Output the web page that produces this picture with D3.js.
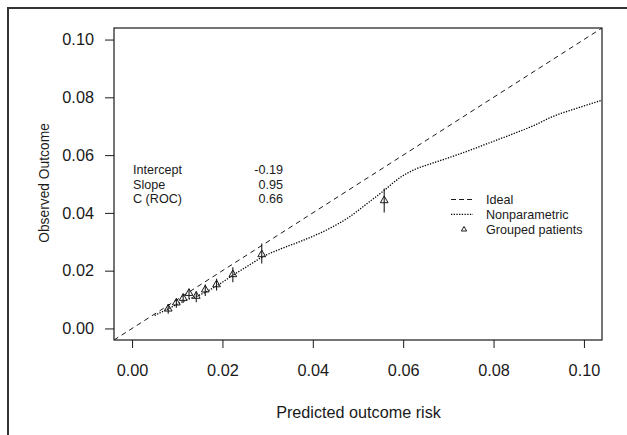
<!DOCTYPE html>
<html lang="en">
<head>
  <meta charset="UTF-8">
  <title>Calibration plot</title>
  <style>
    body { margin: 0; background: #fff; }
    svg { display: block; font-family: "Liberation Sans", Arial, sans-serif; }
  </style>
</head>
<body>
  <svg width="627" height="435"></svg>
  <script src="https://d3js.org/d3.v7.min.js"></script>
  <script>
    // --- data ---
    const tickValues = [0, 0.02, 0.04, 0.06, 0.08, 0.10];

    // nonparametric (loess) curve
    const npX = [0.005, 0.008, 0.0115, 0.015, 0.019, 0.0222, 0.0255, 0.0288, 0.033, 0.0377, 0.0428,
                 0.048, 0.0524, 0.0558, 0.0591, 0.0628, 0.0657, 0.0701, 0.0753, 0.0800, 0.0849,
                 0.0890, 0.0930, 0.0980, 0.1040];
    const npY = [0.0045, 0.0068, 0.0095, 0.0116, 0.0150, 0.0183, 0.0215, 0.0247, 0.0276, 0.0304, 0.0339,
                 0.0385, 0.0437, 0.0478, 0.0520, 0.0552, 0.0568, 0.0591, 0.0620, 0.0648, 0.0677,
                 0.0703, 0.0733, 0.0760, 0.0790];

    // grouped patients (triangles with error bars)
    const grpX  = [0.0080, 0.0098, 0.0113, 0.0126, 0.0142, 0.0162, 0.0187, 0.0223, 0.0287, 0.0558];
    const grpY  = [0.0068, 0.0089, 0.0105, 0.0122, 0.0112, 0.0134, 0.0152, 0.0187, 0.0256, 0.0443];
    const grpLo = [0.0051, 0.0072, 0.0088, 0.0103, 0.0091, 0.0112, 0.0131, 0.0160, 0.0225, 0.0401];
    const grpHi = [0.0085, 0.0103, 0.0120, 0.0137, 0.0129, 0.0152, 0.0172, 0.0212, 0.0294, 0.0484];

    const statLabels = ["Intercept", "Slope", "C (ROC)"];
    const statValues = ["-0.19", "0.95", "0.66"];

    const legendLabels = ["Ideal", "Nonparametric", "Grouped patients"];

    // --- layout ---
    const svg = d3.select("svg");
    const plot = { left: 114, top: 28, right: 602, bottom: 340 };
    const ink = "#1a1a1a";

    const x = d3.scaleLinear().domain([-0.004, 0.104]).range([plot.left, plot.right]);
    const y = d3.scaleLinear().domain([-0.004, 0.104]).range([plot.bottom, plot.top]);

    // outer frame (cut off at right / bottom)
    svg.append("rect")
      .attr("x", 8).attr("y", 8)
      .attr("width", 700).attr("height", 500)
      .attr("fill", "none")
      .attr("stroke", "#333")
      .attr("stroke-width", 2);

    svg.append("clipPath").attr("id", "clip")
      .append("rect")
      .attr("x", plot.left).attr("y", plot.top)
      .attr("width", plot.right - plot.left).attr("height", plot.bottom - plot.top);

    // axes
    const xAxis = svg.append("g")
      .attr("transform", `translate(0,${plot.bottom})`)
      .call(d3.axisBottom(x).tickValues(tickValues).tickFormat(d3.format(".2f")).tickSize(8).tickPadding(16));
    const yAxis = svg.append("g")
      .attr("transform", `translate(${plot.left},0)`)
      .call(d3.axisLeft(y).tickValues(tickValues).tickFormat(d3.format(".2f")).tickSize(9).tickPadding(11));
    [xAxis, yAxis].forEach(g => {
      g.select(".domain").remove();
      g.selectAll("line").attr("stroke", ink);
      g.selectAll("text").attr("fill", ink).style("font-size", "16.3px");
    });

    // axis titles
    svg.append("text")
      .attr("x", (plot.left + plot.right) / 2 + 0.5).attr("y", 418)
      .attr("text-anchor", "middle")
      .attr("fill", ink).style("font-size", "16.2px")
      .text("Predicted outcome risk");
    svg.append("text")
      .attr("transform", "translate(49,183) rotate(-90)")
      .attr("text-anchor", "middle")
      .attr("fill", ink).style("font-size", "13.8px")
      .text("Observed Outcome");

    // plot box
    svg.append("rect")
      .attr("x", plot.left).attr("y", plot.top)
      .attr("width", plot.right - plot.left).attr("height", plot.bottom - plot.top)
      .attr("fill", "none").attr("stroke", ink).attr("stroke-width", 1.2);

    const inner = svg.append("g").attr("clip-path", "url(#clip)");

    // ideal line
    inner.append("line")
      .attr("x1", x(-0.004)).attr("y1", y(-0.004))
      .attr("x2", x(0.104)).attr("y2", y(0.104))
      .attr("stroke", ink).attr("stroke-width", 1)
      .attr("stroke-dasharray", "5,4");

    // nonparametric curve
    const line = d3.line().x(d => x(d[0])).y(d => y(d[1])).curve(d3.curveMonotoneX);
    inner.append("path")
      .datum(npX.map((v, i) => [v, npY[i]]))
      .attr("d", line)
      .attr("fill", "none")
      .attr("stroke", "#000").attr("stroke-width", 1.3)
      .attr("stroke-dasharray", "1.3,1.4");

    // grouped patients
    const groups = grpX.map((v, i) => ({ x: v, y: grpY[i], lo: grpLo[i], hi: grpHi[i] }));
    inner.selectAll(".err").data(groups).enter().append("line")
      .attr("x1", d => x(d.x)).attr("x2", d => x(d.x))
      .attr("y1", d => y(d.lo)).attr("y2", d => y(d.hi))
      .attr("stroke", ink).attr("stroke-width", 1.1);
    const tri = d3.symbol().type(d3.symbolTriangle).size(26);
    inner.selectAll(".pt").data(groups).enter().append("path")
      .attr("d", tri)
      .attr("transform", d => `translate(${x(d.x)},${y(d.y)})`)
      .attr("fill", "none").attr("stroke", ink).attr("stroke-width", 1);

    // statistics text
    const stats = svg.append("g").style("font-size", "12.6px").attr("fill", ink);
    statLabels.forEach((s, i) => {
      stats.append("text").attr("x", 133).attr("y", 174 + i * 14.5).text(s);
      stats.append("text").attr("x", 283).attr("y", 174 + i * 14.5)
        .attr("text-anchor", "end").text(statValues[i]);
    });

    // legend
    const leg = svg.append("g").style("font-size", "12.6px").attr("fill", ink);
    legendLabels.forEach((s, i) => {
      leg.append("text").attr("x", 486).attr("y", 204.3 + i * 14.8).text(s);
    });
    leg.append("line").attr("x1", 451).attr("x2", 473).attr("y1", 199.5).attr("y2", 199.5)
      .attr("stroke", ink).attr("stroke-dasharray", "5,3");
    leg.append("line").attr("x1", 451).attr("x2", 473).attr("y1", 214.3).attr("y2", 214.3)
      .attr("stroke", "#000").attr("stroke-width", 1.2).attr("stroke-dasharray", "1.3,1.4");
    leg.append("path").attr("d", d3.symbol().type(d3.symbolTriangle).size(12))
      .attr("transform", "translate(464,229.5)")
      .attr("fill", "none").attr("stroke", ink).attr("stroke-width", 1);
  </script>
</body>
</html>
